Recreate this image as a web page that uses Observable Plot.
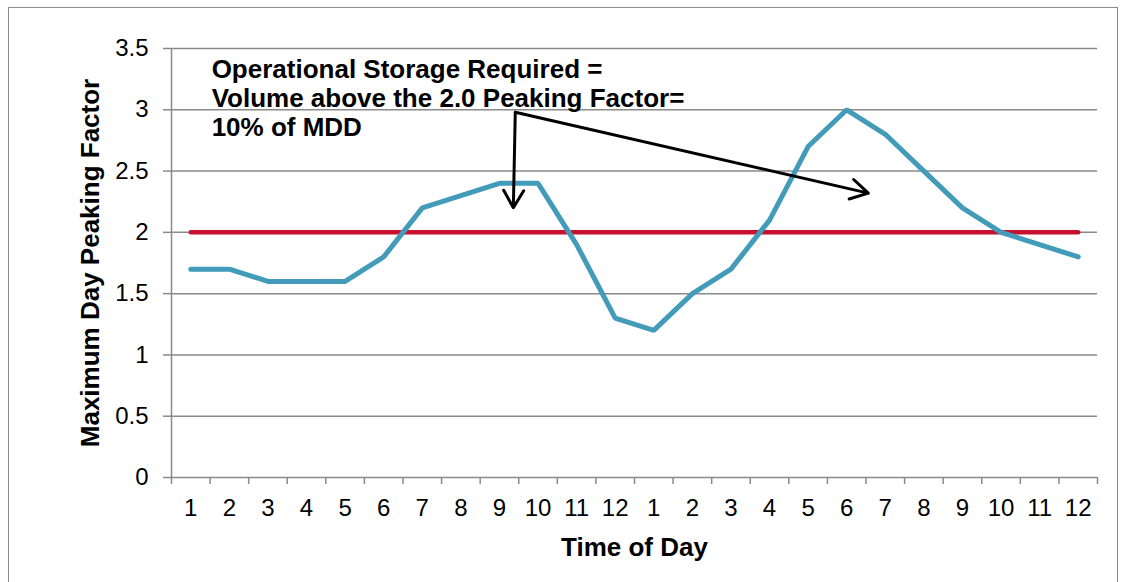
<!DOCTYPE html>
<html><head><meta charset="utf-8">
<script src="https://cdn.jsdelivr.net/npm/d3@7"></script>
<script src="https://cdn.jsdelivr.net/npm/@observablehq/plot@0.6"></script>
<style>
body{margin:0;background:#fff;}
#wrap{position:relative;width:1124px;height:582px;overflow:hidden;}
#frame{position:absolute;left:8px;top:7px;width:1110px;height:600px;border:1.5px solid #8c8c8c;box-sizing:border-box;pointer-events:none}
</style></head><body><div id="wrap"><div id="frame"></div></div>
<script>
// Data
const hourLabels = ["1","2","3","4","5","6","7","8","9","10","11","12","1","2","3","4","5","6","7","8","9","10","11","12"];
const peakingFactor = [1.7,1.7,1.6,1.6,1.6,1.8,2.2,2.3,2.4,2.4,1.9,1.3,1.2,1.5,1.7,2.1,2.7,3.0,2.8,2.5,2.2,2.0,1.9,1.8];
const designPeakingFactor = 2.0;
const yTicks = [0,0.5,1,1.5,2,2.5,3,3.5];
const annotationLines = ["Operational Storage Required =","Volume above the 2.0 Peaking Factor=","10% of MDD"];
const annotationPos = {x: 0.54, y: 3.43};
const arrowStart = {x: 8.41, y: 2.98};
const arrowEnds = [{x: 8.36, y: 2.20}, {x: 17.56, y: 2.32}];
const xTitle = "Time of Day";
const yTitle = "Maximum Day Peaking Factor";

const idx = d3.range(hourLabels.length);
const boundaries = d3.range(hourLabels.length + 1).map(i => i - 0.5);
const gray = "#8a8a8a";

const chart = Plot.plot({
  width: 1124, height: 582,
  marginLeft: 171, marginRight: 27, marginTop: 48, marginBottom: 105,
  style: {fontFamily: "'Liberation Sans', Arial, sans-serif", background: "transparent", color: "#000"},
  x: {type: "linear", domain: [-0.5, hourLabels.length - 0.5], axis: null},
  y: {domain: [0, 3.5], axis: null},
  marks: [
    Plot.gridY(yTicks, {stroke: gray, strokeOpacity: 1, strokeWidth: 1.5}),
    Plot.axisY(yTicks, {tickSize: 8, tickPadding: 15, stroke: gray, strokeWidth: 1.5, fontSize: 24, tickFormat: d => String(d), label: null}),
    Plot.ruleX([-0.5], {y1: 0, y2: 3.5, stroke: gray, strokeWidth: 1.5}),
    Plot.axisX(boundaries, {tickSize: 7, stroke: gray, strokeWidth: 1.5, tickFormat: () => "", label: null}),
    Plot.axisX(idx, {tickSize: 0, tickPadding: 21, fontSize: 24, tickFormat: i => hourLabels[i], label: null}),
    Plot.lineY(idx, {x: i => i, y: () => designPeakingFactor, stroke: "#C8102F", strokeWidth: 4.5, strokeLinecap: "round"}),
    Plot.lineY(idx, {x: i => i, y: i => peakingFactor[i], stroke: "#419BB9", strokeWidth: 5, strokeLinecap: "round", strokeLinejoin: "miter"}),
    Plot.arrow(arrowEnds, {x1: () => arrowStart.x, y1: () => arrowStart.y, x2: "x", y2: "y", stroke: "#000", strokeWidth: 3, headLength: 10, headAngle: 60}),
    Plot.text([annotationLines.join("\n")], {x: () => annotationPos.x, y: () => annotationPos.y, textAnchor: "start", lineAnchor: "top", lineHeight: 1.12, fontWeight: "bold", fontSize: 26, fill: "#000"}),
    Plot.text([yTitle], {frameAnchor: "left", dx: -81, rotate: -90, textAnchor: "middle", lineAnchor: "middle", fontWeight: "bold", fontSize: 26, fill: "#000"}),
    Plot.text([xTitle], {frameAnchor: "bottom", dy: 70, textAnchor: "middle", lineAnchor: "middle", fontWeight: "bold", fontSize: 26, fill: "#000"})
  ]
});
document.getElementById("wrap").prepend(chart);
</script>
</body></html>
